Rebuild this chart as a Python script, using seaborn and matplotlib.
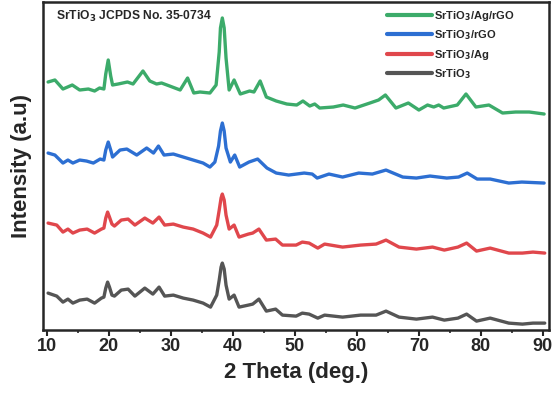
import numpy as np
import pandas as pd
import matplotlib
matplotlib.use('Agg')
import matplotlib.pyplot as plt
import seaborn as sns

# XRD patterns (2theta, stacked intensity in a.u.)
theta_srtio3 = [10.2, 11.6, 12.6, 13.4, 14.2, 15.3, 16.5, 17.7, 18.8, 19.2, 19.5, 19.8, 20.1, 20.5, 20.9,
                22.0, 23.1, 24.2, 25.8, 27.1, 28.1, 29.0, 30.4, 32.0, 33.6, 35.2, 36.4, 37.4, 37.8, 38.1,
                38.3, 38.6, 38.9, 39.4, 40.2, 41.0, 42.5, 43.2, 44.2, 45.4, 46.9, 48.0, 50.2, 51.2, 52.3,
                53.7, 54.8, 57.7, 60.6, 63.1, 64.7, 66.8, 69.6, 72.2, 74.1, 76.3, 77.7, 79.3, 81.5, 84.5,
                86.7, 88.4, 90.3]
int_srtio3 = [37, 34, 28, 31, 27, 30, 31, 27, 32, 33, 42, 48, 43, 35, 34,
              40, 41, 34, 42, 36, 43, 34, 35, 32, 30, 27, 23, 35, 50, 63,
              67, 61, 45, 31, 35, 23, 25, 26, 31, 19, 21, 15, 14, 17, 16,
              12, 15, 13, 15, 15, 19, 13, 11, 13, 10, 12, 16, 9, 12, 7,
              6, 7, 7]

theta_ag = theta_srtio3
int_ag = [107, 105, 98, 101, 97, 100, 101, 97, 101, 102, 112, 118, 113, 106, 104,
          110, 111, 105, 112, 107, 113, 105, 106, 103, 101, 97, 93, 105, 120, 132,
          136, 130, 115, 101, 105, 93, 96, 97, 101, 90, 91, 85, 85, 88, 87,
          82, 86, 83, 85, 86, 90, 83, 81, 83, 80, 83, 87, 79, 82, 77,
          77, 78, 77]

theta_rgo = [10.2, 11.3, 12.6, 13.4, 14.2, 15.3, 16.4, 17.5, 18.6, 19.2, 19.5, 19.9, 20.3, 20.6, 21.8,
             22.9, 24.5, 26.1, 27.2, 28.0, 28.9, 30.4, 32.0, 33.6, 35.2, 36.3, 37.1, 37.7, 38.0, 38.3,
             38.6, 38.9, 39.6, 40.3, 41.1, 42.6, 44.0, 45.5, 47.0, 49.0, 51.5, 52.8, 53.6, 55.5, 57.7,
             60.3, 62.5, 64.7, 67.4, 69.6, 71.8, 74.5, 76.4, 77.8, 79.4, 81.5, 84.5, 86.6, 90.2]
int_rgo = [177, 175, 167, 170, 167, 170, 169, 167, 171, 170, 180, 188, 180, 173, 180,
           181, 175, 182, 177, 184, 175, 176, 173, 170, 167, 163, 168, 184, 199, 207,
           199, 182, 168, 175, 163, 168, 171, 162, 157, 155, 157, 156, 152, 156, 153,
           157, 156, 160, 153, 152, 154, 152, 153, 157, 151, 151, 147, 148, 147]

theta_agrgo = [10.2, 11.3, 12.6, 14.1, 15.3, 16.7, 17.7, 18.5, 19.2, 19.5, 19.9, 20.3, 20.6, 21.5, 23.0,
               23.9, 25.5, 26.6, 27.7, 28.5, 29.8, 31.5, 32.7, 33.7, 34.7, 36.3, 37.3, 37.8, 38.0, 38.3,
               38.6, 38.9, 39.4, 40.2, 41.2, 42.7, 43.4, 44.4, 45.4, 47.0, 48.7, 50.3, 51.3, 52.4, 53.2,
               54.0, 56.2, 57.8, 59.7, 62.1, 63.5, 64.6, 66.3, 68.3, 70.0, 71.4, 72.4, 73.2, 74.0, 76.2,
               77.6, 79.2, 81.3, 83.5, 85.6, 87.8, 90.2]
int_agrgo = [248, 250, 241, 245, 240, 241, 239, 242, 241, 256, 270, 254, 245, 246, 248,
             246, 259, 249, 246, 247, 244, 240, 252, 237, 238, 237, 245, 278, 302, 312,
             302, 272, 240, 250, 236, 239, 238, 249, 233, 229, 226, 225, 229, 224, 226,
             222, 223, 225, 222, 227, 230, 235, 222, 227, 220, 225, 223, 225, 222, 225,
             236, 223, 225, 217, 218, 218, 216]

series = [('SrTiO$_3$/Ag/rGO', theta_agrgo, int_agrgo, '#3cab6a'),
          ('SrTiO$_3$/rGO', theta_rgo, int_rgo, '#2d6fd2'),
          ('SrTiO$_3$/Ag', theta_ag, int_ag, '#e0474c'),
          ('SrTiO$_3$', theta_srtio3, int_srtio3, '#555555')]

sns.set_style('ticks')
plt.rcParams['font.family'] = ['Liberation Sans', 'DejaVu Sans']
plt.rcParams['mathtext.default'] = 'bf'

fig = plt.figure(figsize=(5.56, 3.93), dpi=100)
ax = fig.add_axes([0.077, 0.160, 0.910, 0.835])

for name, tt, ii, col in series:
    df = pd.DataFrame({'theta': tt, 'intensity': ii})
    sns.lineplot(data=df, x='theta', y='intensity', color=col, linewidth=2.4,
                 label=name, ax=ax, sort=False, estimator=None,
                 solid_joinstyle='round', solid_capstyle='round')

ax.set_xlim(9.35, 90.95)
ax.set_ylim(0, 328)
ax.set_xticks(np.arange(10, 91, 10))
ax.set_xticks(np.arange(15, 90, 10), minor=True)
ax.set_yticks([])
ax.tick_params(axis='x', which='major', length=4, width=1.5, direction='out', labelsize=13, pad=2)
ax.tick_params(axis='x', which='minor', length=2.5, width=1.2, direction='out')
for lab in ax.get_xticklabels():
    lab.set_fontweight('bold')
for sp in ax.spines.values():
    sp.set_linewidth(1.8)
    sp.set_visible(True)

ax.set_xlabel('2 Theta (deg.)', fontsize=16, fontweight='bold', labelpad=5)
ax.set_ylabel('Intensity (a.u)', fontsize=16, fontweight='bold', labelpad=8)

ax.text(0.026, 0.955, 'SrTiO$_3$ JCPDS No. 35-0734', transform=ax.transAxes,
        fontsize=8.7, fontweight='bold', va='center', ha='left')

leg = ax.legend(loc='upper left', bbox_to_anchor=(0.668, 1.0), frameon=False, fontsize=8,
                handlelength=4.0, labelspacing=0.5, handletextpad=0.2, borderaxespad=0.2)
for t in leg.get_texts():
    t.set_fontweight('bold')
for h in leg.get_lines():
    h.set_linewidth(3)

fig.savefig('out.png', dpi=100)
